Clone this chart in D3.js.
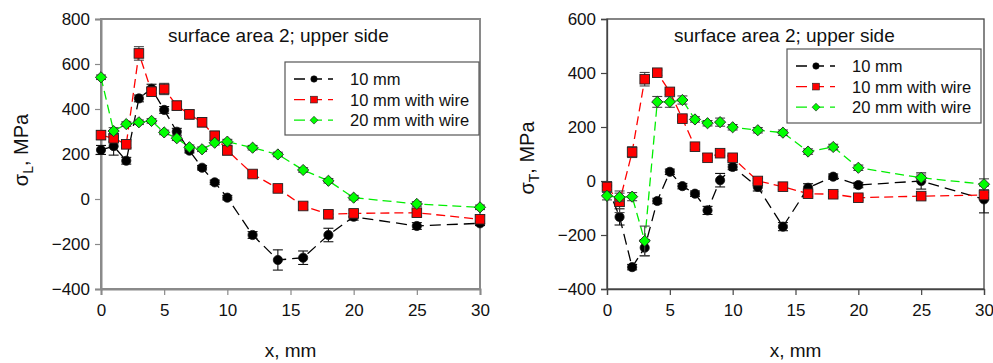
<!DOCTYPE html>
<html><head><meta charset="utf-8">
<script src="https://cdn.jsdelivr.net/npm/d3@7"></script>
<style>
html,body{margin:0;padding:0;background:#fff;}
svg{display:block;font-family:"Liberation Sans",Arial,sans-serif;}
</style></head>
<body>
<svg id="chart" width="993" height="363"></svg>
<script>
// ---------- DATA ----------
const xPositions = [0,1,2,3,4,5,6,7,8,9,10,12,14,16,18,20,25,30];
const seriesNames = ["10 mm","10 mm with wire","20 mm with wire"];
const xTicks = [0,5,10,15,20,25,30];
const leftYTicks = [-400,-200,0,200,400,600,800];
const rightYTicks = [-400,-200,0,200,400,600];
const chartTitle = "surface area 2; upper side";

// Left panel: sigma_L (MPa)
const leftBlack = [218,235,170,447,490,396,299,215,139,74,6,-160,-271,-261,-160,-79,-120,-108];
const leftRed   = [284,270,243,647,477,489,415,376,341,281,216,111,47,-31,-68,-64,-61,-90];
const leftGreen = [541,302,333,341,347,296,270,230,221,250,255,228,198,129,81,6,-22,-37];
const leftBlackErr = [20,40,15,15,20,15,15,10,10,10,10,15,45,30,30,15,15,10];
const leftRedErr   = [20,15,15,30,20,25,20,20,20,20,20,15,15,15,15,15,15,15];
const leftGreenErr = [10,15,10,10,10,10,10,10,10,10,10,10,10,10,10,10,10,10];

// Right panel: sigma_T (MPa)
const rightBlack = [-18,-133,-319,-247,-74,34,-19,-47,-109,3,52,-22,-169,-25,16,-15,0,-68];
const rightRed   = [-22,-77,107,377,401,330,231,127,86,103,86,0,-21,-47,-49,-62,-56,-52];
const rightGreen = [-55,-60,-58,-222,293,293,300,228,214,218,199,188,179,109,126,49,12,-12];
const rightBlackErr = [15,30,10,30,10,10,10,10,15,25,10,15,15,15,10,10,30,50];
const rightRedErr   = [20,40,20,25,10,10,10,10,10,10,10,10,10,10,10,10,10,10];
const rightGreenErr = [15,15,15,55,20,20,15,10,10,15,10,10,10,10,10,10,10,20];

// ---------- STYLE ----------
const seriesStyle = [
  {color:"#000000", fill:"#000000", marker:"circle",  dash:"11,6"},
  {color:"#ff0000", fill:"#ff0000", marker:"square",  dash:"9,5"},
  {color:"#00ee00", fill:"#00ff00", marker:"diamond", dash:"9,5"}
];

const svg = d3.select("#chart");

function marker(g, type, cx, cy, fill){
  if(type==="circle"){
    g.append("circle").attr("cx",cx).attr("cy",cy).attr("r",4.6)
      .attr("fill",fill).attr("stroke","#111").attr("stroke-width",0.8);
  } else if(type==="square"){
    g.append("rect").attr("x",cx-4.8).attr("y",cy-4.8).attr("width",9.6).attr("height",9.6)
      .attr("fill",fill).attr("stroke","#222").attr("stroke-width",0.9);
  } else {
    const s=5.6;
    g.append("path").attr("d",`M${cx},${cy-s}L${cx+s},${cy}L${cx},${cy+s}L${cx-s},${cy}Z`)
      .attr("fill",fill).attr("stroke","#222").attr("stroke-width",0.9);
  }
}

function panel(opt){
  const x = d3.scaleLinear().domain([0,30]).range([opt.x0,opt.x1]);
  const y = d3.scaleLinear().domain(opt.yDomain).range([289,19]);
  const g = svg.append("g");

  // frame
  g.append("rect").attr("x",opt.x0).attr("y",19).attr("width",opt.x1-opt.x0).attr("height",270)
    .attr("fill","none").attr("stroke",opt.frameColor).attr("stroke-width",opt.frameWidth);

  // axes
  const ax = g.append("g").attr("transform",`translate(0,289)`)
    .call(d3.axisBottom(x).tickValues(xTicks).tickSize(6).tickPadding(6).tickFormat(d3.format("d")));
  const ay = g.append("g").attr("transform",`translate(${opt.x0},0)`)
    .call(d3.axisLeft(y).tickValues(opt.yTicks).tickSize(6).tickPadding(5).tickFormat(d3.format("d")));
  [ax,ay].forEach(a=>{
    a.select(".domain").attr("stroke",opt.frameColor).attr("stroke-width",opt.frameWidth);
    a.selectAll(".tick line").attr("stroke",opt.frameColor).attr("stroke-width",1.2);
    a.selectAll(".tick text").attr("font-size",17).attr("fill","#111")
      .attr("font-family","Liberation Sans, Arial, sans-serif");
  });
  ax.selectAll(".tick text").attr("dy","0.9em");

  // series
  opt.series.forEach((vals,i)=>{
    const st = seriesStyle[i];
    const err = opt.errs[i];
    const line = d3.line().x((d,j)=>x(xPositions[j])).y(d=>y(d));
    g.append("path").datum(vals).attr("d",line).attr("fill","none")
      .attr("stroke",st.color).attr("stroke-width",1.3).attr("stroke-dasharray",st.dash);
    const eb = g.append("g").attr("stroke", i===0 ? "#111" : "#444").attr("stroke-width",1.1);
    vals.forEach((v,j)=>{
      const cx = x(xPositions[j]);
      const yt = y(v+err[j]), yb = y(v-err[j]);
      eb.append("line").attr("x1",cx).attr("x2",cx).attr("y1",yt).attr("y2",yb);
      eb.append("line").attr("x1",cx-5).attr("x2",cx+5).attr("y1",yt).attr("y2",yt);
      eb.append("line").attr("x1",cx-5).attr("x2",cx+5).attr("y1",yb).attr("y2",yb);
    });
    const mg = g.append("g");
    vals.forEach((v,j)=> marker(mg, st.marker, x(xPositions[j]), y(v), st.fill));
  });

  // title
  g.append("text").attr("x",opt.x0+67).attr("y",42).attr("font-size",19).attr("fill","#111")
    .text(chartTitle);

  // legend
  const lx = opt.legX, ly = opt.legY;
  g.append("rect").attr("x",lx).attr("y",ly).attr("width",194).attr("height",opt.legH)
    .attr("fill","#fff").attr("stroke","#555").attr("stroke-width",1.2);
  seriesNames.forEach((name,i)=>{
    const st = seriesStyle[i];
    const cy = ly + 17 + i*20.6;
    g.append("line").attr("x1",lx+8).attr("x2",lx+48).attr("y1",cy).attr("y2",cy)
      .attr("stroke",st.color).attr("stroke-width",1.3).attr("stroke-dasharray","11,6")
      .attr("stroke-dashoffset",-1);
    const lg = g.append("g").attr("transform",`translate(${lx+29},${cy}) scale(0.7)`);
    marker(lg, st.marker, 0, 0, st.fill);
    g.append("text").attr("x",lx+65).attr("y",cy).attr("dy","0.36em").attr("font-size",16.5)
      .attr("fill","#111").text(name);
  });

  // axis titles
  g.append("text").attr("x",(opt.x0+opt.x1)/2).attr("y",357).attr("text-anchor","middle")
    .attr("font-size",19).attr("fill","#111").text("x, mm");
  const yl = g.append("text").attr("transform",`translate(${opt.ylX},${opt.ylY}) rotate(-90)`)
    .attr("text-anchor","middle").attr("font-size",20).attr("fill","#111");
  yl.append("tspan").text("σ");
  yl.append("tspan").attr("font-size",14).attr("dy",5).text(opt.sub);
  yl.append("tspan").attr("dy",-5).text(", MPa");
}

panel({x0:101,x1:480,yDomain:[-400,800],yTicks:leftYTicks,
  series:[leftBlack,leftRed,leftGreen],errs:[leftBlackErr,leftRedErr,leftGreenErr],
  frameColor:"#8a8a8a",frameWidth:2,legX:285,legY:62,legH:73,ylX:28,ylY:150,sub:"L"});
panel({x0:607,x1:984,yDomain:[-400,600],yTicks:rightYTicks,
  series:[rightBlack,rightRed,rightGreen],errs:[rightBlackErr,rightRedErr,rightGreenErr],
  frameColor:"#444",frameWidth:1.3,legX:787,legY:49,legH:74,ylX:534,ylY:158,sub:"T"});
</script>
</body></html>
